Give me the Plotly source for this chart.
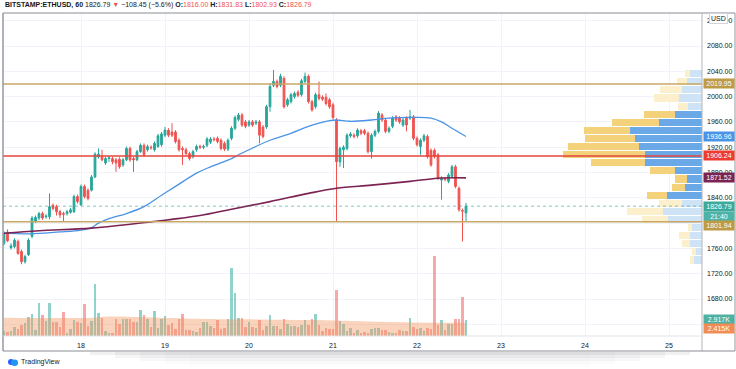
import plotly.graph_objects as go
import pandas as pd

# ---------------- data ----------------
times = pd.date_range("2021-02-17 02:00", periods=133, freq="h")

opens = [1768,1786,1761,1763,1771,1755,1739,1750,1779,1802,
         1808,1815,1810,1810,1828,1826,1818,1815,1815,1817,
         1818,1842,1829,1858,1852,1852,1873,1905,1905,1895,
         1902,1902,1900,1901,1892,1900,1918,1902,1900,1913,
         1923,1916,1920,1916,1921,1924,1939,1947,1944,1944,
         1931,1918,1916,1910,1905,1916,1921,1920,1923,1928,
         1933,1934,1931,1926,1917,1934,1950,1964,1971,1960,
         1955,1960,1958,1960,1952,1952,1984,2018,2024,2018,
         2029,1987,1992,2000,2007,2003,2024,2032,1992,1984,
         2003,1999,1999,1995,1987,1963,1897,1916,1918,1938,
         1939,1938,1946,1946,1942,1913,1939,1945,1971,1963,
         1945,1953,1968,1966,1955,1966,1966,1968,1934,1921,
         1931,1937,1915,1915,1908,1868,1870,1866,1874,1889,
         1855,1820,1816.00]
highs = [1787,1790,1768,1776,1774,1758,1750,1776,1811,1812,
         1818,1818,1814,1847,1831,1829,1821,1818,1821,1824,
         1845,1845,1861,1861,1855,1876,1912,1918,1916,1905,
         1906,1905,1903,1904,1903,1921,1921,1905,1916,1926,
         1926,1924,1923,1929,1941,1944,1952,1950,1958,1947,
         1934,1921,1919,1913,1916,1924,1924,1924,1936,1936,
         1936,1937,1934,1929,1934,1953,1970,1974,1974,1963,
         1963,1963,1963,1963,1955,1987,2021,2042,2027,2036,
         2032,1998,2006,2008,2010,2028,2038,2035,1995,2006,
         2024,2002,2005,1998,1990,1966,1921,1923,1942,1944,
         1942,1950,1949,1949,1945,1942,1948,1977,1974,1966,
         1953,1969,1971,1969,1966,1969,1979,1971,1937,1934,
         1941,1940,1918,1918,1911,1874,1873,1879,1892,1892,
         1858,1823,1831.83]
lows = [1765,1770,1758,1760,1750,1735,1736,1748,1776,1800,
        1805,1805,1807,1806,1820,1812,1808,1802,1812,1815,
        1816,1831,1827,1839,1836,1850,1871,1902,1898,1892,
        1897,1893,1881,1886,1889,1898,1897,1881,1898,1911,
        1905,1913,1916,1913,1919,1921,1936,1936,1936,1926,
        1913,1892,1907,1899,1902,1913,1917,1917,1920,1925,
        1929,1926,1915,1914,1914,1931,1947,1961,1952,1950,
        1952,1952,1955,1926,1934,1949,1976,2015,2013,2015,
        1981,1984,1989,1997,1999,2000,2021,1989,1976,1981,
        1994,1993,1986,1981,1964,1802,1889,1887,1915,1935,
        1934,1935,1939,1939,1910,1902,1936,1942,1960,1942,
        1942,1950,1960,1957,1952,1945,1963,1931,1921,1908,
        1928,1902,1889,1902,1868,1837,1866,1863,1871,1855,
        1818,1771,1802.93]
closes = [1784,1772,1764,1773,1752,1739,1747,1773,1808,1809,
          1815,1808,1811,1826,1823,1818,1813,1814,1818,1821,
          1842,1834,1858,1842,1839,1873,1909,1909,1900,1902,
          1903,1897,1895,1889,1900,1918,1900,1900,1913,1923,
          1908,1921,1919,1926,1938,1941,1947,1939,1939,1929,
          1916,1916,1910,1902,1913,1921,1920,1921,1933,1933,
          1932,1929,1918,1917,1931,1950,1967,1971,1955,1953,
          1960,1955,1960,1939,1937,1984,2016,2024,2016,2032,
          1984,1995,2003,2005,2002,2025,2032,1992,1979,2003,
          1997,1996,1989,1984,1967,1897,1918,1920,1939,1941,
          1937,1947,1942,1942,1913,1939,1945,1974,1963,1945,
          1950,1966,1963,1960,1963,1955,1968,1934,1924,1931,
          1938,1905,1892,1905,1871,1871,1869,1876,1889,1858,
          1821,1819,1826.79]
volumes_k = [0.91,0.73,0.91,1.64,1.21,2.00,2.43,3.52,4.07,1.09,
             5.95,3.76,2.73,5.95,2.61,2.55,1.64,4.43,0.61,1.34,
             2.91,2.55,2.43,5.77,1.82,2.73,9.41,4.25,3.34,0.91,
             0.61,0.61,3.04,2.25,3.04,3.16,3.04,2.61,2.55,4.68,
             3.83,3.04,1.64,4.55,1.40,3.04,3.58,2.00,2.43,1.34,
             3.04,3.95,1.15,1.09,0.91,0.73,1.40,2.61,2.61,1.82,
             1.52,2.85,1.34,1.52,3.04,
             12.45,7.77,3.34,3.34,1.64,2.55,1.64,1.40,2.91,1.09,
             1.82,3.83,1.82,1.82,1.34,3.04,2.13,1.82,1.82,1.64,
             2.00,2.85,2.00,3.04,4.07,2.00,0.91,1.40,1.21,1.21,
             8.32,2.73,2.13,0.91,1.40,0.61,1.03,0.61,0.79,0.61,
             1.34,1.52,1.40,1.09,1.09,0.79,0.61,0.49,1.03,0.91,
             0.91,3.34,1.64,1.21,1.52,0.91,1.40,1.34,14.57,2.00,
             2.91,1.03,2.13,2.13,3.10,3.10,7.16,2.917]

# moving averages (read at knots)
ma_fast_t = ["2021-02-17 02:00","2021-02-17 09:00","2021-02-17 18:00","2021-02-18 00:00",
             "2021-02-18 03:00","2021-02-18 05:00","2021-02-18 08:00","2021-02-18 13:00",
             "2021-02-18 18:00","2021-02-18 23:00","2021-02-19 03:00","2021-02-19 09:00",
             "2021-02-19 13:00","2021-02-19 19:00","2021-02-19 21:00","2021-02-20 00:00",
             "2021-02-20 06:00","2021-02-20 12:00","2021-02-20 17:00","2021-02-20 23:00",
             "2021-02-21 01:00","2021-02-21 05:00","2021-02-21 11:00","2021-02-21 16:00",
             "2021-02-21 22:00","2021-02-22 04:00","2021-02-22 07:00","2021-02-22 10:00",
             "2021-02-22 14:00"]
ma_fast_v = [1784,1783,1786,1789,1793,1800,1807,1815,1826,1844,1858,1879,1889,1902,1908,
             1916,1931,1942,1953,1962,1963,1961,1963,1966,1967,1966,1960,1950,1936.96]
ma_slow_t = ["2021-02-17 02:00","2021-02-17 12:00","2021-02-18 03:00","2021-02-18 20:00",
             "2021-02-19 10:00","2021-02-19 19:00","2021-02-20 06:00","2021-02-20 17:00",
             "2021-02-21 01:00","2021-02-21 11:00","2021-02-21 22:00","2021-02-22 06:00",
             "2021-02-22 14:00"]
ma_slow_v = [1784,1788,1792,1802,1812,1822,1834,1847,1855,1860,1866,1871,1871.52]
vol_ma_t = ["2021-02-17 02:00","2021-02-18 03:00","2021-02-18 07:00","2021-02-18 22:00",
            "2021-02-19 13:00","2021-02-19 23:00","2021-02-20 19:00","2021-02-21 05:00",
            "2021-02-21 20:00","2021-02-22 14:00"]
vol_ma_v = [3.34,3.34,3.52,3.34,3.10,3.04,2.90,2.73,2.50,2.415]

# volume profile (bottom row first)
vp_price = [1741.7,1754.5,1767.3,1780.1,1792.9,1805.7,1818.5,1831.3,1844.1,1856.9,1869.7,1882.5,
            1895.4,1908.2,1921.0,1933.8,1946.6,1959.4,1972.2,1985.0,1997.8,2010.6,2023.4,2036.2]
vp_up = [8,6,12,12,10,34,39,20,35,17,15,27,57,57,63,67,72,43,27,14,23,20,15,12]
vp_down = [4,4,8,11,4,26,36,23,20,13,12,25,54,82,71,50,46,47,31,10,25,22,10,5]
vp_value_area = [False,False,False,False,False,False,False,False,
                 True,True,True,True,True,True,True,True,True,True,True,
                 False,False,False,False,False]

levels = {"gold_hi": 2019.95, "red": 1906.24, "gold_lo": 1801.94}
last_price = 1826.79
price_ticks = [1640,1680,1720,1760,1800,1840,1880,1920,1960,2000,2040,2080,2120]
price_tick_text = ["", "1680.00", "1720.00", "1760.00", "", "1840.00", "1880.00", "1920.00",
                   "1960.00", "2000.00", "2040.00", "2080.00", "2120.00"]
day_ticks = ["2021-02-%d" % d for d in range(18, 26)]
day_labels = [str(d) for d in range(18, 26)]

# ---------------- figure ----------------
UP = "#26A69A"; DN = "#EF5350"
FONT = "Liberation Sans"
fig = go.Figure()

# volume profile
fig.add_trace(go.Bar(y=vp_price, x=vp_up, orientation="h", xaxis="x2", yaxis="y", width=11.2,
                     marker=dict(color=["#6AA8E8" if v else "#CFE3F6" for v in vp_value_area], line_width=0),
                     hoverinfo="skip"))
fig.add_trace(go.Bar(y=vp_price, x=vp_down, base=vp_up, orientation="h", xaxis="x2", yaxis="y", width=11.2,
                     marker=dict(color=["#F4D27C" if v else "#FCEFCC" for v in vp_value_area], line_width=0),
                     hoverinfo="skip"))

# candles
fig.add_trace(go.Candlestick(x=times, open=opens, high=highs, low=lows, close=closes,
                             increasing=dict(line=dict(color=UP, width=1), fillcolor=UP),
                             decreasing=dict(line=dict(color=DN, width=1), fillcolor=DN),
                             whiskerwidth=0, hoverinfo="skip"))
# MAs
fig.add_trace(go.Scatter(x=ma_fast_t, y=ma_fast_v, mode="lines", line=dict(color="#4A93E6", width=1.3, shape="spline"),
                         hoverinfo="skip"))
fig.add_trace(go.Scatter(x=ma_slow_t, y=ma_slow_v, mode="lines", line=dict(color="#7B2352", width=1.6, shape="spline"),
                         hoverinfo="skip"))

# volume
vcols = ["rgba(38,166,154,0.5)" if c >= o else "rgba(239,83,80,0.5)" for o, c in zip(opens, closes)]
fig.add_trace(go.Bar(x=times, y=volumes_k, yaxis="y2", marker=dict(color=vcols, line_width=0),
                     width=0.75*3600*1000, hoverinfo="skip"))
fig.add_trace(go.Scatter(x=vol_ma_t, y=vol_ma_v, yaxis="y2", mode="lines", fill="tozeroy",
                         line=dict(color="rgba(245,160,110,0.0)", width=0, shape="spline"),
                         fillcolor="rgba(243,150,95,0.42)", hoverinfo="skip"))

# geometry helpers (paper units)
PH = 323.0; PW = 699.0
def py(p):  # pixel y -> paper y
    return (336 - p) / PH
def px(p):
    return (p - 3) / PW

shapes = []
for key, col in [("gold_hi", "#C9A764"), ("red", "#E3463C"), ("gold_lo", "#C9A764")]:
    shapes.append(dict(type="line", xref="paper", yref="y", x0=0, x1=1, y0=levels[key], y1=levels[key],
                       line=dict(color=col, width=1.5), layer="above"))
shapes.append(dict(type="line", xref="paper", yref="y", x0=0, x1=1, y0=last_price, y1=last_price,
                   line=dict(color="rgba(38,166,154,0.6)", width=1, dash="dot"), layer="above"))
frame = "#9598A1"
shapes += [
    dict(type="line", xref="paper", yref="paper", x0=0, x1=px(735), y0=1, y1=1, line=dict(color="#8A8D96", width=1)),
    dict(type="line", xref="paper", yref="paper", x0=0, x1=0, y0=py(351), y1=1, line=dict(color=frame, width=1.5)),
    dict(type="line", xref="paper", yref="paper", x0=1, x1=1, y0=py(351), y1=1, line=dict(color="#B2B5BE", width=1)),
    dict(type="line", xref="paper", yref="paper", x0=px(735), x1=px(735), y0=py(351), y1=1, line=dict(color=frame, width=1)),
    dict(type="line", xref="paper", yref="paper", x0=0, x1=px(735), y0=py(351), y1=py(351), line=dict(color="#8A8D96", width=1)),
    dict(type="line", xref="paper", yref="paper", x0=0, x1=1, y0=0, y1=0, line=dict(color="#E0E3EB", width=1)),
]
for i, a in enumerate([0.10, 0.07, 0.05, 0.03, 0.015]):
    shapes.append(dict(type="rect", xref="paper", yref="paper", x0=px(90 + i * 25), x1=px(690 - i * 25),
                       y0=py(352 + 3 * (i + 1)), y1=py(352), fillcolor="rgba(120,120,130,%.3f)" % a, line_width=0))

ann = []
def plabel(val, text, color, yref="y", yshift=0):
    ann.append(dict(xref="paper", yref=yref, x=1, y=val, xanchor="left", yanchor="middle", text=text,
                    showarrow=False, bgcolor=color, font=dict(family=FONT, size=7, color="white"),
                    width=30, height=9, borderpad=0, align="center", yshift=yshift, xshift=1))

plabel(2019.95, "2019.95", "#BE9A44")
plabel(1936.96, "1936.96", "#4A93E6")
plabel(1906.24, "1906.24", "#EE3B2F")
plabel(1871.52, "1871.52", "#7B2352")
plabel(1826.79, "1826.79", "#3DA99A")
plabel(1826.79, "21:40", "#4DB3A6", yshift=-10)
plabel(1801.94, "1801.94", "#BE9A44", yshift=-4)
plabel(2.917, "2.917K", "#4FB1A4", yref="y2")
plabel(2.415, "2.415K", "#F28C55", yref="y2", yshift=-5.5)

ann.append(dict(xref="paper", yref="paper", x=px(719), y=py(19), text="USD", showarrow=False,
                bgcolor="white", bordercolor="#D1D4DC", borderwidth=1, borderpad=1,
                font=dict(family=FONT, size=7, color="#131722"), xanchor="center", yanchor="middle"))

red = "#EF5350"
hdr = ("<b>BITSTAMP:ETHUSD, 60</b> 1826.79 <span style='color:%s'>▼</span> −108.45 (−5.6%%) "
       "<b>O:</b><span style='color:%s'>1816.00</span> <b>H:</b><span style='color:%s'>1831.83</span> "
       "<b>L:</b><span style='color:%s'>1802.93</span> <b>C:</b><span style='color:%s'>1826.79</span>") % (red, red, red, red, red)
ann.append(dict(xref="paper", yref="paper", x=0, y=py(5.5), text=hdr, showarrow=False, xanchor="left",
                yanchor="middle", font=dict(family=FONT, size=7, color="#131722")))
ann.append(dict(xref="paper", yref="paper", x=px(19), y=py(362), text="TradingView", showarrow=False,
                xanchor="left", yanchor="middle", font=dict(family=FONT, size=7, color="#131722")))
shapes.append(dict(type="circle", xref="paper", yref="paper", x0=px(8), x1=px(14), y0=py(365), y1=py(359),
                   fillcolor="#2962FF", line_width=0))
shapes.append(dict(type="circle", xref="paper", yref="paper", x0=px(11), x1=px(18), y0=py(366), y1=py(359.5),
                   fillcolor="#2196F3", line_width=0))

y_top = 2080 + 33 / 0.6325
y_bot = y_top - PH / 0.6325

fig.update_layout(
    width=736, height=369, margin=dict(l=3, r=34, t=13, b=33),
    paper_bgcolor="white", plot_bgcolor="white", showlegend=False,
    font=dict(family=FONT, size=7, color="#131722"),
    bargap=0, barmode="overlay",
    xaxis=dict(type="date", range=["2021-02-17 01:42:51", "2021-02-25 09:25:43"],
               tickvals=day_ticks, ticktext=day_labels, showgrid=True, gridcolor="#F0F3FA", gridwidth=1,
               zeroline=False, showline=False, ticks="", ticklabelstandoff=4,
               tickfont=dict(family=FONT, size=7, color="#131722"),
               rangeslider=dict(visible=False), fixedrange=True),
    xaxis2=dict(overlaying="x", range=[PW, 0], visible=False, fixedrange=True),
    yaxis=dict(side="right", range=[y_bot, y_top], tickvals=price_ticks,
               ticktext=price_tick_text, showgrid=True, gridcolor="#F0F3FA",
               zeroline=False, showline=False, ticks="", ticklabelstandoff=4,
               tickfont=dict(family=FONT, size=7, color="#131722"), fixedrange=True),
    yaxis2=dict(overlaying="y", range=[0, PH / 5.49], visible=False, fixedrange=True),
    shapes=shapes, annotations=ann,
)

fig.write_html("out.html", config={"displayModeBar": False},
               post_script="document.body.style.margin='0';document.body.style.overflow='hidden';")
